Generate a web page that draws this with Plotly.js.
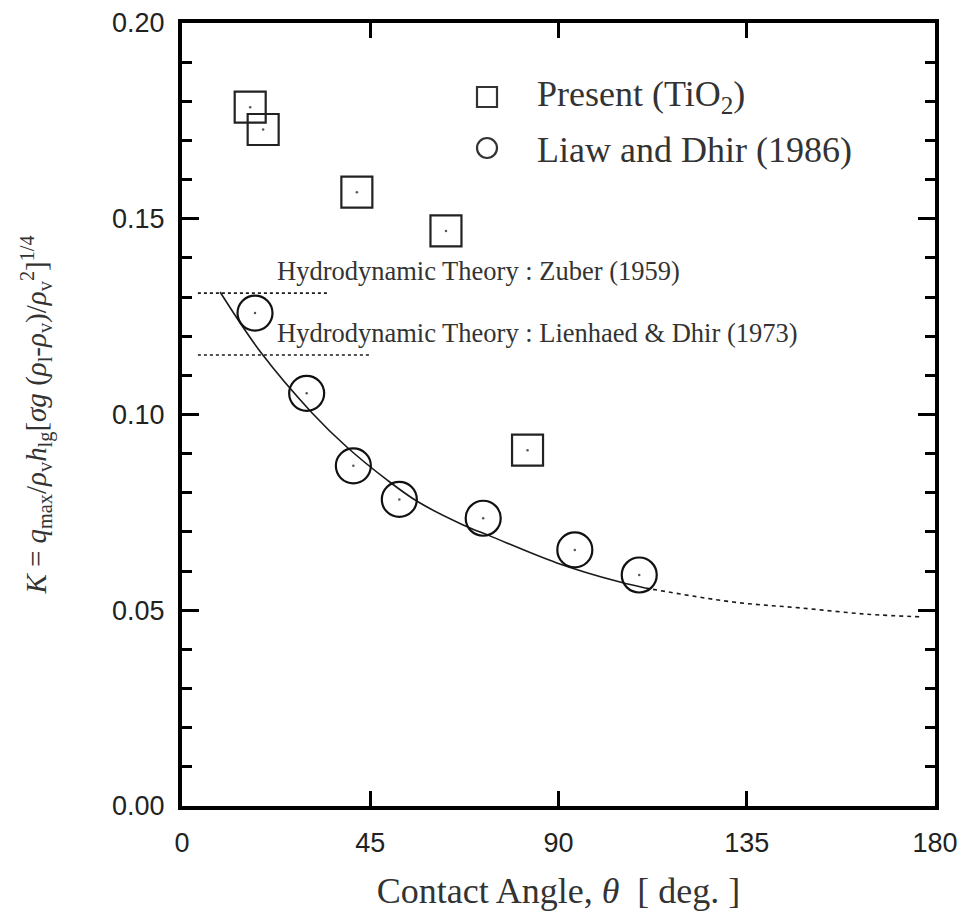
<!DOCTYPE html>
<html>
<head>
<meta charset="utf-8">
<script src="https://cdn.plot.ly/plotly-3.0.1.min.js"></script>
<style>html,body{margin:0;padding:0;background:#fff;} #chart{width:962px;height:915px;}</style>
</head>
<body>
<div id="chart"></div>
<script>
// Present (TiO2) data
var presentAngle = [16.3, 19.4, 41.8, 63.1, 82.6];
var presentK     = [0.1785, 0.1728, 0.1568, 0.1469, 0.0909];
// Liaw and Dhir (1986)
var liawAngle = [17.45, 29.8, 40.96, 51.95, 72.0, 93.9, 109.3];
var liawK     = [0.1259, 0.1054, 0.0869, 0.0783, 0.0735, 0.0654, 0.0590];
// Correlation curve (solid part, then dashed extrapolation)
var curveAngle = [9.1, 19.1, 31.1, 39.4, 49.0, 56.4, 67.2, 73.6, 89.6, 104.7, 110.7];
var curveK     = [0.1313, 0.1155, 0.1004, 0.0917, 0.0833, 0.0777, 0.0718, 0.0690, 0.0621, 0.0572, 0.0557];
var extAngle = [110.7, 131.7, 147.7, 163.7, 177.1];
var extK     = [0.0557, 0.0521, 0.0506, 0.0490, 0.0483];
// Hydrodynamic theory levels
var zuberAngle = [3.8, 34.9];
var zuberK     = [0.1310, 0.1310];
var lienAngle = [3.8, 45.4];
var lienK     = [0.1152, 0.1152];

var xTicks = [0, 45, 90, 135, 180];
var yTicks = [0.00, 0.05, 0.10, 0.15, 0.20];
var yTickText = ['0.00', '0.05', '0.10', '0.15', '0.20'];

var lineCol = '#1a1a1a';
var traces = [
  {x: zuberAngle, y: zuberK, mode: 'lines', line: {color: lineCol, width: 1.6, dash: '3px,3px'}, showlegend: false, hoverinfo: 'skip'},
  {x: lienAngle, y: lienK, mode: 'lines', line: {color: lineCol, width: 1.6, dash: '3px,3px'}, showlegend: false, hoverinfo: 'skip'},
  {x: curveAngle, y: curveK, mode: 'lines', line: {color: lineCol, width: 1.6, shape: 'spline'}, showlegend: false},
  {x: extAngle, y: extK, mode: 'lines', line: {color: lineCol, width: 1.6, shape: 'spline', dash: '4px,4px'}, showlegend: false},
  {x: presentAngle, y: presentK, mode: 'markers', name: 'Present (TiO<sub>2</sub>)',
   marker: {symbol: 'square-open', size: 31, color: '#222', line: {width: 2.2, color: '#222'}}, showlegend: false},
  {x: liawAngle, y: liawK, mode: 'markers', name: 'Liaw and Dhir (1986)',
   marker: {symbol: 'circle-open', size: 35, color: '#111', line: {width: 2.2, color: '#111'}}, showlegend: false},
  {x: presentAngle.concat(liawAngle), y: presentK.concat(liawK), mode: 'markers',
   marker: {symbol: 'circle', size: 2.5, color: '#555'}, showlegend: false, hoverinfo: 'skip'}
];

var serif = 'Liberation Serif, Times New Roman, serif';
var sans = 'Liberation Sans, Arial, sans-serif';

var layout = {
  width: 962, height: 915,
  margin: {l: 182, r: 27, t: 23, b: 109},
  paper_bgcolor: '#fff', plot_bgcolor: '#fff',
  showlegend: false,
  xaxis: {
    range: [0, 180], tickvals: xTicks, ticktext: xTicks.map(String),
    showgrid: false, zeroline: false,
    showline: true, linecolor: '#000', linewidth: 4, mirror: 'ticks',
    ticks: 'inside', ticklen: 15, tickwidth: 3, tickcolor: '#000',
    tickfont: {family: sans, size: 27, color: '#222'},
    ticklabelstandoff: 10,
    title: {text: 'Contact Angle, <i>θ</i>  [ deg. ]', font: {family: serif, size: 36, color: '#333'}, standoff: 21}
  },
  yaxis: {
    range: [0, 0.2], tickvals: yTicks, ticktext: yTickText,
    showgrid: false, zeroline: false,
    showline: true, linecolor: '#000', linewidth: 4, mirror: 'ticks',
    ticks: 'inside', ticklen: 17, tickwidth: 3, tickcolor: '#000',
    minor: {dtick: 0.01, ticks: 'inside', ticklen: 10, tickwidth: 3, tickcolor: '#000', showgrid: false},
    tickfont: {family: sans, size: 27, color: '#222'},
    ticklabelstandoff: 8,
    title: {text: '<i>K</i> = <i>q</i><sub>max</sub>/<i>ρ</i><sub>v</sub><i>h</i><sub>lg</sub>[<i>σg</i> (<i>ρ</i><sub>l</sub>-<i>ρ</i><sub>v</sub>)/<i>ρ</i><sub>v</sub><sup>2</sup>]<sup>1/4</sup>',
            font: {family: serif, size: 29, color: '#333'}, standoff: 58}
  },
  shapes: [
    {type: 'rect', xref: 'paper', yref: 'paper', x0: (477-182)/753, x1: (497-182)/753, y0: (806-107)/783, y1: (806-87)/783, line: {color: '#333', width: 2.2}},
    {type: 'circle', xref: 'paper', yref: 'paper', x0: (477-182)/753, x1: (497-182)/753, y0: (806-158)/783, y1: (806-138)/783, line: {color: '#333', width: 2.2}}
  ],
  annotations: [
    {xref: 'paper', yref: 'paper', x: (535-182)/753, y: (806-97)/783, xanchor: 'left', yanchor: 'middle', showarrow: false,
     text: 'Present (TiO<sub>2</sub>)', font: {family: serif, size: 36, color: '#333'}},
    {xref: 'paper', yref: 'paper', x: (535-182)/753, y: (806-150)/783, xanchor: 'left', yanchor: 'middle', showarrow: false,
     text: 'Liaw and Dhir (1986)', font: {family: serif, size: 36, color: '#333'}},
    {xref: 'paper', yref: 'paper', x: (275-182)/753, y: (806-271)/783, xanchor: 'left', yanchor: 'middle', showarrow: false,
     text: 'Hydrodynamic Theory : Zuber (1959)', font: {family: serif, size: 26.5, color: '#333'}},
    {xref: 'paper', yref: 'paper', x: (275-182)/753, y: (806-333)/783, xanchor: 'left', yanchor: 'middle', showarrow: false,
     text: 'Hydrodynamic Theory : Lienhaed &amp; Dhir (1973)', font: {family: serif, size: 26.5, color: '#333'}}
  ]
};

Plotly.newPlot('chart', traces, layout, {displayModeBar: false, staticPlot: true});
</script>
</body>
</html>
